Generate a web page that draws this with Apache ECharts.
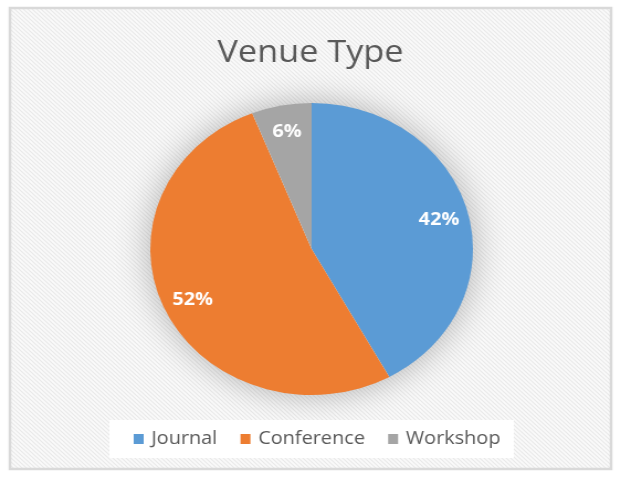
<!DOCTYPE html>
<html>
<head>
<meta charset="utf-8">
<script src="https://cdn.jsdelivr.net/npm/echarts@6/dist/echarts.min.js"></script>
<style>
    html, body {
        margin: 0;
        padding: 0;
        background: #ffffff;
        overflow: hidden;
    }
    /* the reference is stretched sideways, so the chart is drawn narrow and widened */
    #chart {
        width: 562px;
        height: 477px;
        transform: scaleX(1.105);
        transform-origin: 0 0;
    }
</style>
</head>
<body>
<div id="chart"></div>
<script>
const venueTypes = ['Journal', 'Conference', 'Workshop'];
const venueShares = [42, 52, 6];

const palette = ['#5b9bd5', '#ed7d31', '#a5a5a5'];
const textColor = '#595959';
const fontFamily = '"Open Sans", "Liberation Sans", sans-serif';

// faint diagonal hatch like the spreadsheet chart area
function makeHatch() {
    const size = 4;
    const c = document.createElement('canvas');
    c.width = size;
    c.height = size;
    const ctx = c.getContext('2d');
    ctx.fillStyle = '#fbfbfb';
    ctx.fillRect(0, 0, size, size);
    ctx.strokeStyle = '#e9e9e9';
    ctx.lineWidth = 1.2;
    ctx.beginPath();
    ctx.moveTo(-1, -1);
    ctx.lineTo(size + 1, size + 1);
    ctx.moveTo(-1, size - 1);
    ctx.lineTo(1, size + 1);
    ctx.moveTo(size - 1, -1);
    ctx.lineTo(size + 1, 1);
    ctx.stroke();
    return c;
}

const chart = echarts.init(document.getElementById('chart'));

const pieData = venueTypes.map((name, i) => ({
    name: name,
    value: venueShares[i],
    itemStyle: { color: palette[i] }
}));

const option = {
    animation: false,
    graphic: [
        {
            type: 'rect',
            z: -10,
            silent: true,
            shape: { x: 9, y: 8, width: 544, height: 461 },
            style: {
                fill: { image: makeHatch(), repeat: 'repeat' },
                stroke: '#d9d9d9',
                lineWidth: 2.5
            }
        }
    ],
    title: {
        text: 'Venue Type',
        left: 'center',
        top: 33,
        textStyle: {
            fontFamily: fontFamily,
            fontSize: 31,
            fontWeight: 'normal',
            color: textColor
        }
    },
    legend: {
        data: venueTypes,
        left: 99,
        top: 420,
        backgroundColor: '#ffffff',
        padding: [10, 12, 10, 22],
        itemGap: 21,
        itemWidth: 9,
        itemHeight: 10,
        icon: 'rect',
        textStyle: {
            fontFamily: fontFamily,
            fontSize: 18,
            color: textColor,
            padding: [0, 0, 0, 2]
        }
    },
    series: [
        {
            // soft shadow behind the whole pie
            name: 'backdrop',
            type: 'pie',
            silent: true,
            center: [282, 249],
            radius: 145,
            z: 1,
            label: { show: false },
            labelLine: { show: false },
            itemStyle: {
                color: '#ffffff',
                shadowBlur: 32,
                shadowColor: 'rgba(0, 0, 0, 0.3)'
            },
            data: [{ name: 'backdrop', value: 1 }]
        },
        {
            name: 'Venue Type',
            type: 'pie',
            center: [282, 249],
            radius: 146,
            startAngle: 90,
            z: 2,
            label: { show: false },
            labelLine: { show: false },
            emphasis: { disabled: true },
            data: pieData
        },
        {
            // transparent ring that only carries the percentage labels
            name: 'labels',
            type: 'pie',
            silent: true,
            center: [282, 249],
            radius: [86, 146],
            startAngle: 90,
            z: 3,
            itemStyle: { color: 'transparent' },
            labelLine: { show: false },
            emphasis: { disabled: true },
            label: {
                show: true,
                position: 'inside',
                formatter: '{d}%',
                fontFamily: fontFamily,
                fontSize: 18,
                fontWeight: 'bold',
                color: '#ffffff'
            },
            data: venueTypes.map((name, i) => ({ name: name, value: venueShares[i] }))
        }
    ]
};

chart.setOption(option);
</script>
</body>
</html>
